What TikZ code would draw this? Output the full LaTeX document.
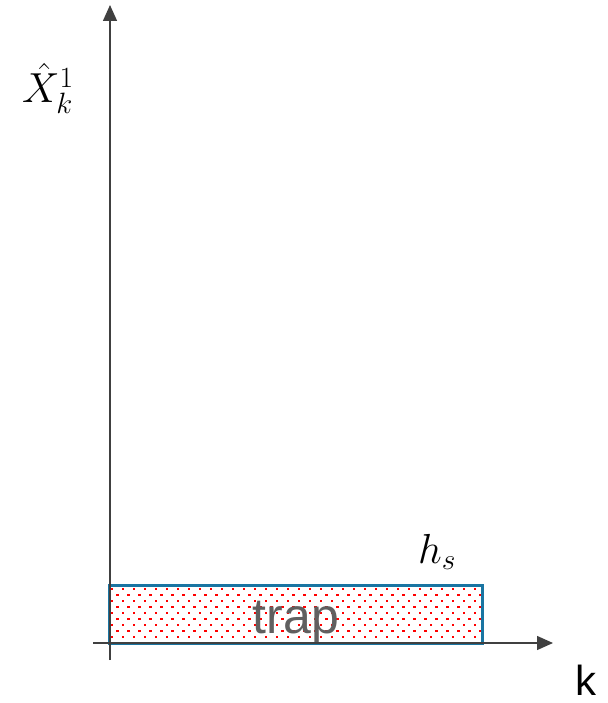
\RequirePackage{fix-cm}
\documentclass[tikz,border=0pt]{standalone}
\usepackage{fontspec}
\setsansfont{Liberation Sans}
\usetikzlibrary{arrows.meta}
\definecolor{axisgray}{HTML}{404040}
\definecolor{boxblue}{HTML}{1A75A2}
\definecolor{textgray}{HTML}{606060}
\begin{document}
\begin{tikzpicture}[x=1pt,y=-1pt,
  axis/.style={draw=axisgray,line width=1.4pt,-{Triangle[length=16pt,width=14pt]}},
  trapbox/.style={draw=boxblue,line width=3pt,minimum width=373pt,minimum height=58pt,inner sep=0pt},
  dotmark/.style={fill=red}]
\useasboundingbox (0,0) rectangle (607,703);
% dotted fill
\begin{scope}
\clip (109,585) rectangle (482,643);
\foreach \r in {0,...,9}{
  \pgfmathsetmacro{\yy}{589+6*\r}
  \pgfmathsetmacro{\xo}{mod(\r,2)*5.5}
  \foreach \c in {0,...,34}{
    \fill[dotmark] ({112+\xo+11*\c-1.2},{\yy-1.2}) rectangle ++(2.4,2.4);
  }
}
\end{scope}
\node[trapbox] (box) at (295.5,614) {};
\node[anchor=base,text=textgray,font=\sffamily\fontsize{50}{56}\selectfont,inner sep=0pt] (trap) at (296,633) {trap};
% axes
\coordinate (ybot) at (110,660);
\coordinate (ytip) at (110,5);
\coordinate (xstart) at (93,643);
\coordinate (xtip) at (553,643);
\draw[axis] (ybot) -- (ytip);
\draw[axis] (xstart) -- (xtip);
% labels
\node[anchor=base west,font=\fontsize{42}{48}\selectfont,inner sep=0pt] (xlab) at (22,103) {$\hat{X}_k^1$};
\node[anchor=base west,font=\fontsize{42}{48}\selectfont,inner sep=0pt] (hs) at (418,563) {$h_s$};
\node[anchor=base west,font=\sffamily\fontsize{42}{48}\selectfont,inner sep=0pt,text=black] (klab) at (575,695) {k};
\end{tikzpicture}
\end{document}
